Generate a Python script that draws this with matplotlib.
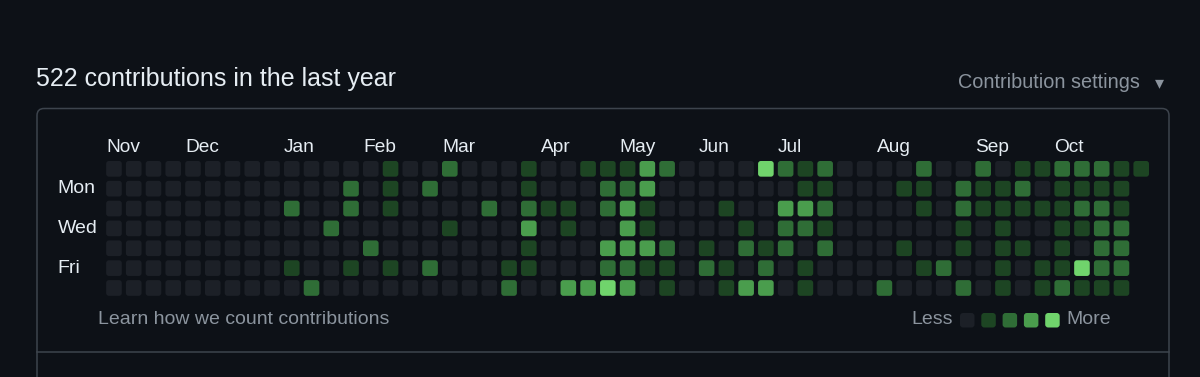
import matplotlib
matplotlib.use("Agg")
import matplotlib.pyplot as plt
from matplotlib.patches import FancyBboxPatch

# contribution levels (0-4) per weekday, one value per week column
sun = [0, 0, 0, 0, 0, 0, 0, 0, 0, 0,
       0, 0, 0, 0, 1, 0, 0, 2, 0, 0,
       0, 1, 0, 0, 1, 1, 1, 3, 2, 0,
       0, 0, 0, 4, 2, 1, 2, 0, 0, 0,
       0, 2, 0, 0, 2, 0, 1, 1, 2, 2,
       2, 1, 1]
mon = [0, 0, 0, 0, 0, 0, 0, 0, 0, 0,
       0, 0, 2, 0, 1, 0, 2, 0, 0, 0,
       0, 1, 0, 0, 0, 2, 2, 3, 0, 0,
       0, 0, 0, 0, 0, 1, 1, 0, 0, 0,
       1, 1, 0, 2, 1, 1, 2, 0, 1, 1,
       1, 1]
tue = [0, 0, 0, 0, 0, 0, 0, 0, 0, 2,
       0, 0, 2, 0, 1, 0, 0, 0, 0, 2,
       0, 2, 1, 1, 0, 2, 3, 1, 0, 0,
       0, 1, 0, 0, 3, 3, 2, 0, 0, 0,
       0, 1, 0, 2, 1, 1, 1, 1, 1, 2,
       2, 1]
wed = [0, 0, 0, 0, 0, 0, 0, 0, 0, 0,
       0, 2, 0, 0, 0, 0, 0, 1, 0, 0,
       0, 3, 0, 1, 0, 0, 3, 1, 0, 0,
       0, 0, 1, 0, 2, 2, 1, 0, 0, 0,
       0, 0, 0, 1, 0, 1, 0, 0, 1, 1,
       2, 2]
thu = [0, 0, 0, 0, 0, 0, 0, 0, 0, 0,
       0, 0, 0, 2, 0, 0, 0, 0, 0, 0,
       0, 1, 0, 0, 0, 3, 3, 3, 2, 0,
       1, 0, 2, 1, 2, 0, 2, 0, 0, 0,
       1, 0, 0, 1, 0, 1, 1, 0, 1, 0,
       2, 2]
fri = [0, 0, 0, 0, 0, 0, 0, 0, 0, 1,
       0, 0, 1, 0, 1, 0, 2, 0, 0, 0,
       1, 1, 0, 0, 0, 2, 2, 1, 1, 0,
       2, 1, 0, 2, 0, 1, 0, 0, 0, 0,
       0, 1, 2, 0, 0, 1, 0, 1, 1, 4,
       2, 2]
sat = [0, 0, 0, 0, 0, 0, 0, 0, 0, 0,
       2, 0, 0, 0, 0, 0, 0, 0, 0, 0,
       2, 0, 0, 3, 3, 4, 3, 0, 1, 0,
       0, 1, 3, 3, 0, 1, 0, 0, 0, 2,
       0, 0, 0, 2, 0, 1, 0, 1, 2, 1,
       1, 1]
weekdays = [sun, mon, tue, wed, thu, fri, sat]

months = ["Nov", "Dec", "Jan", "Feb", "Mar", "Apr", "May", "Jun", "Jul", "Aug", "Sep", "Oct"]
month_cols = [0, 4, 9, 13, 17, 22, 26, 30, 34, 39, 44, 48]
day_labels = ["Mon", "Wed", "Fri"]
day_rows = [1, 3, 5]
total = 522

BG = "#0d1117"
TEXT = "#e6edf3"
MUTED = "#8b949e"
BORDER = "#3d444d"
level_colors = ["#1c2027", "#1d4523", "#2f6d36", "#4a9d4d", "#70d46c"]

plt.rcParams["font.family"] = ["Liberation Sans", "DejaVu Sans"]

fig = plt.figure(figsize=(12, 3.77), dpi=100, facecolor=BG)

# page chrome in pixel coordinates
bg = fig.add_axes([0, 0, 1, 1])
bg.set_xlim(0, 1200)
bg.set_ylim(377, 0)
bg.axis("off")

bg.add_patch(FancyBboxPatch((37, 108.5), 1132, 320,
                            boxstyle="round,pad=0,rounding_size=7",
                            facecolor="none", edgecolor=BORDER, lw=1.1))
bg.plot([37, 1169], [352, 352], color=BORDER, lw=1.1)

bg.text(36, 79, f"{total} contributions in the last year", color=TEXT,
        fontsize=18, va="center", ha="left")
bg.text(1140, 83, "Contribution settings", color=MUTED, fontsize=14.3,
        va="center", ha="right")
bg.text(1159, 83, "▾", color=MUTED, fontsize=13, va="center", ha="center",
        family="DejaVu Sans")

bg.text(98, 320, "Learn how we count contributions", color=MUTED,
        fontsize=14, va="center", ha="left")
bg.text(953, 320, "Less", color=MUTED, fontsize=14, va="center", ha="right")
bg.text(1066, 320, "More", color=MUTED, fontsize=14, va="center", ha="left")
for i, col in enumerate(level_colors):
    bg.add_patch(FancyBboxPatch((960 + 21.3 * i, 313), 14.5, 14.5,
                                boxstyle="round,pad=0,rounding_size=3",
                                facecolor=col, edgecolor="none"))

# contribution grid, one unit per week / weekday
ax = fig.add_axes([104.1 / 1200, 1 - 297.9 / 377, 1047 / 1200, 139 / 377])
ax.set_facecolor("none")
ax.set_xlim(-0.5, 52.5)
ax.set_ylim(6.5, -0.5)
ax.axis("off")

size = 0.79
for r, week_levels in enumerate(weekdays):
    for c, lvl in enumerate(week_levels):
        ax.add_patch(FancyBboxPatch((c - size / 2, r - size / 2), size, size,
                                    boxstyle="round,pad=0,rounding_size=0.14",
                                    facecolor=level_colors[lvl], edgecolor="none"))

for name, c in zip(months, month_cols):
    ax.text(c - size / 2, -1.05, name, color=TEXT, fontsize=13.8,
            va="center", ha="left")
for name, r in zip(day_labels, day_rows):
    ax.text(-2.85, r, name, color=TEXT, fontsize=14, va="center", ha="left")

fig.savefig("out.png", dpi=100, facecolor=BG)
